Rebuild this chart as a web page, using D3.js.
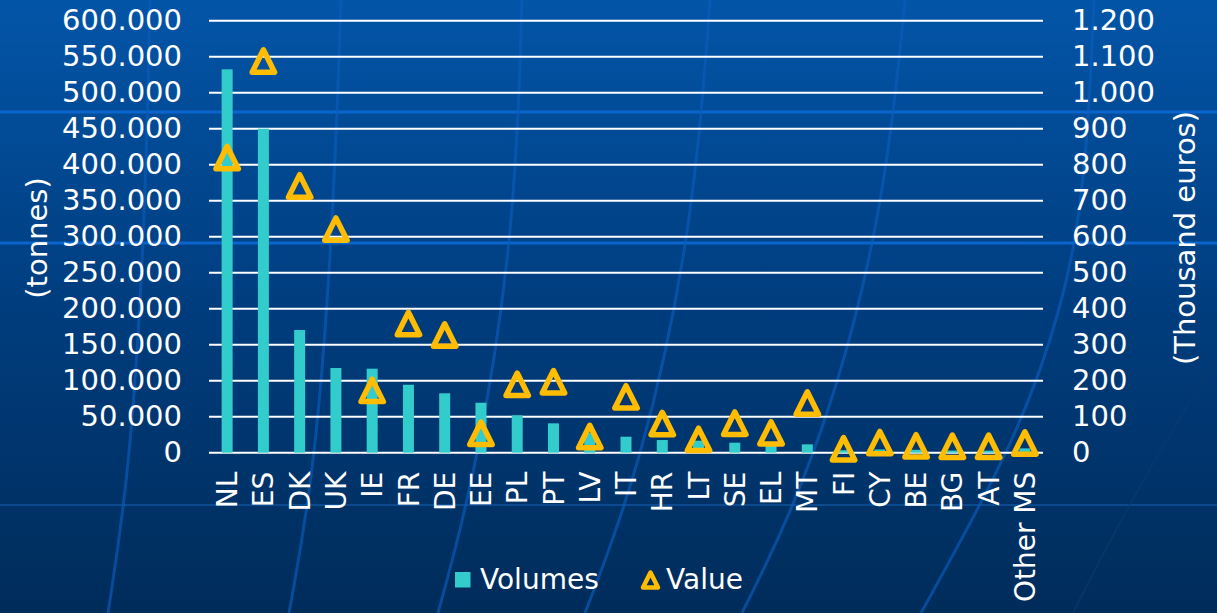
<!DOCTYPE html>
<html>
<head>
<meta charset="utf-8">
<script src="https://cdn.jsdelivr.net/npm/d3@7"></script>
<style>
  html, body { margin: 0; padding: 0; background: #003a78; }
  svg { display: block; font-family: "DejaVu Sans", Verdana, sans-serif; }
</style>
</head>
<body>
<svg class="chart"></svg>
<script>
// values
var countries = ["NL", "ES", "DK", "UK", "IE", "FR", "DE", "EE", "PL", "PT", "LV", "IT",
                 "HR", "LT", "SE", "EL", "MT", "FI", "CY", "BE", "BG", "AT", "Other MS"];
var volumes = [532500, 450000, 170400, 117600, 116700, 94400, 82500, 69400, 51900, 40800, 28000, 22200,
               17600, 16700, 13900, 10000, 11600, 3500, 4500, 4000, 3000, 2800, 6000];
var values = [820, 1088, 741, 621, 173, 359, 327, 54, 190, 197, 45, 155,
              81, 37, 82, 55, 138, 11, 28, 19, 18, 18, 27];
var leftTicks = [0, 50000, 100000, 150000, 200000, 250000, 300000, 350000, 400000, 450000, 500000, 550000, 600000];
var rightTicks = [0, 100, 200, 300, 400, 500, 600, 700, 800, 900, 1000, 1100, 1200];

var width = 1217;
var height = 613;

var svg = d3.select(".chart")
  .attr("width", width)
  .attr("height", height);

// background gradient
var defs = svg.append("defs");
var grad = defs.append("linearGradient")
  .attr("id", "bg")
  .attr("x1", 0).attr("y1", 0).attr("x2", 0).attr("y2", 1);
grad.append("stop").attr("offset", "0").attr("stop-color", "#0355a8");
grad.append("stop").attr("offset", "0.5").attr("stop-color", "#003d7e");
grad.append("stop").attr("offset", "1").attr("stop-color", "#002c5a");

svg.append("rect")
  .attr("width", width).attr("height", height)
  .attr("fill", "url(#bg)");

// decorative template lines
var deco = svg.append("g");
deco.selectAll("line.h")
  .data([{y: 112, c: "#0a66cc", w: 3}, {y: 243, c: "#0a66cc", w: 3}, {y: 505, c: "#0b4a8e", w: 2}])
  .enter().append("line")
  .attr("x1", 0).attr("x2", width)
  .attr("y1", function(d) { return d.y; })
  .attr("y2", function(d) { return d.y; })
  .attr("stroke", function(d) { return d.c; })
  .attr("stroke-width", function(d) { return d.w; });

var curves = [
  [[150, 0], [145, 230], [130, 470], [108, 613]],
  [[341, 0], [333, 230], [315, 470], [289, 613]],
  [[522, 0], [515, 230], [477, 470], [438, 613]],
  [[710, 0], [693, 230], [640, 470], [585, 613]],
  [[905, 0], [882, 230], [813, 470], [742, 613]],
  [[1094, 0], [1088, 140], [1074, 260], [1042, 370], [1000, 470], [921, 613]]
];
var curveLine = d3.line().curve(d3.curveBasis);
deco.selectAll("path.c")
  .data(curves)
  .enter().append("path")
  .attr("d", curveLine)
  .attr("fill", "none")
  .attr("stroke", "#0a5cbc")
  .attr("stroke-opacity", 0.65)
  .attr("stroke-width", 3);

// faint darker sweep at bottom right
deco.append("path")
  .attr("d", curveLine([[1217, 358], [1160, 450], [1110, 540], [1073, 613]]))
  .attr("fill", "none")
  .attr("stroke", "#0a3a70")
  .attr("stroke-opacity", 0.6)
  .attr("stroke-width", 2);

// scales
var x = d3.scaleBand().domain(countries).range([209, 1043]);
var yL = d3.scaleLinear().domain([0, 600000]).range([452.7, 20.7]);
var yR = d3.scaleLinear().domain([0, 1200]).range([452.7, 20.7]);

var dotted = function(d) { return d3.format(",")(d).replace(/,/g, "."); };

// gridlines
svg.append("g")
  .selectAll("line")
  .data(leftTicks)
  .enter().append("line")
  .attr("x1", 209).attr("x2", 1043)
  .attr("y1", function(d) { return yL(d); })
  .attr("y2", function(d) { return yL(d); })
  .attr("stroke", "#ffffff")
  .attr("stroke-width", 2);

// axes
var leftAxis = svg.append("g")
  .attr("transform", "translate(209,0)")
  .call(d3.axisLeft(yL).tickValues(leftTicks).tickFormat(dotted).tickSize(0).tickPadding(27));
var rightAxis = svg.append("g")
  .attr("transform", "translate(1043,0)")
  .call(d3.axisRight(yR).tickValues(rightTicks).tickFormat(dotted).tickSize(0).tickPadding(29));
[leftAxis, rightAxis].forEach(function(a) {
  a.select(".domain").remove();
  a.selectAll("text")
    .attr("fill", "#ffffff")
    .style("font-size", "29px")
    .style("font-family", "'DejaVu Sans', Verdana, sans-serif");
});

// category labels
var xAxis = svg.append("g")
  .attr("transform", "translate(0,452.7)")
  .call(d3.axisBottom(x).tickSize(0).tickPadding(0));
xAxis.select(".domain").remove();
xAxis.selectAll("text")
  .attr("fill", "#ffffff")
  .style("font-size", "28px")
  .style("font-family", "'DejaVu Sans', Verdana, sans-serif")
  .attr("text-anchor", "end")
  .attr("transform", "rotate(-90)")
  .attr("x", -19)
  .attr("y", 0)
  .attr("dy", "0.36em");

// axis titles
svg.append("text")
  .attr("transform", "translate(37,238) rotate(-90)")
  .attr("text-anchor", "middle")
  .attr("dy", "0.35em")
  .attr("fill", "#ffffff")
  .style("font-size", "29px")
  .text("(tonnes)");
svg.append("text")
  .attr("transform", "translate(1185,238) rotate(-90)")
  .attr("text-anchor", "middle")
  .attr("dy", "0.35em")
  .attr("fill", "#ffffff")
  .style("font-size", "29px")
  .text("(Thousand euros)");

// volume bars
var barW = 11;
svg.append("g")
  .selectAll("rect")
  .data(countries)
  .enter().append("rect")
  .attr("x", function(d) { return x(d) + x.bandwidth() / 2 - barW / 2; })
  .attr("y", function(d, i) { return yL(volumes[i]); })
  .attr("width", barW)
  .attr("height", function(d, i) { return yL(0) - yL(volumes[i]); })
  .attr("fill", "#33cccc");

// value triangles
function tri(s) {
  return "M0," + (-s) + "L" + s + "," + s + "L" + (-s) + "," + s + "Z";
}
svg.append("g")
  .selectAll("path")
  .data(countries)
  .enter().append("path")
  .attr("transform", function(d, i) {
    return "translate(" + (x(d) + x.bandwidth() / 2) + "," + yR(values[i]) + ")";
  })
  .attr("d", tri(11.2))
  .attr("fill", "none")
  .attr("stroke", "#ffbc00")
  .attr("stroke-width", 5.5)
  .attr("stroke-linejoin", "round");

// legend
var legend = svg.append("g");
legend.append("rect")
  .attr("x", 455).attr("y", 572).attr("width", 15.5).attr("height", 15.5)
  .attr("fill", "#33cccc");
legend.append("text")
  .attr("x", 480).attr("y", 589)
  .attr("fill", "#ffffff")
  .style("font-size", "28px")
  .text("Volumes");
legend.append("path")
  .attr("transform", "translate(650.5,580)")
  .attr("d", tri(7.5))
  .attr("fill", "none")
  .attr("stroke", "#ffbc00")
  .attr("stroke-width", 4.5)
  .attr("stroke-linejoin", "round");
legend.append("text")
  .attr("x", 666).attr("y", 589)
  .attr("fill", "#ffffff")
  .style("font-size", "28px")
  .text("Value");
</script>
</body>
</html>
